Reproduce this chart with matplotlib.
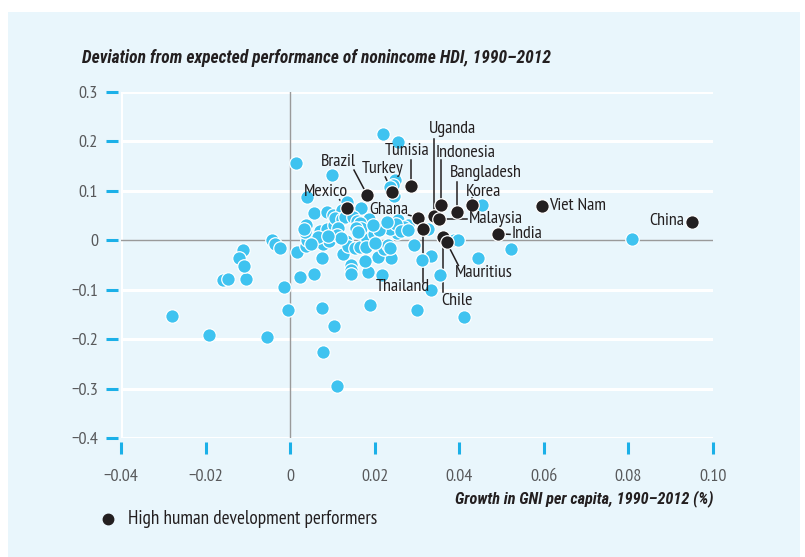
import matplotlib
matplotlib.use("Agg")
import matplotlib.pyplot as plt
from matplotlib.patches import Rectangle

FONT = ["PT Sans Narrow", "DejaVu Sans"]
TITLEFONT = ["Roboto Condensed", "DejaVu Sans"]
plt.rcParams["font.family"] = FONT
plt.rcParams["axes.unicode_minus"] = True

# ---------------- data ----------------
blue_x = [-0.0280, -0.0191, -0.0054, -0.0006, -0.0015, -0.0159, -0.0147, -0.0105,
          -0.0112, -0.0122, -0.0109, -0.0043, -0.0035, -0.0024, 0.0016, 0.0024,
          0.0057, 0.0039, 0.0057, 0.0014, 0.0098, 0.0220, 0.0256, 0.0249,
          0.0243, 0.0235, 0.0246, 0.0453, 0.0088, 0.0102, 0.0134, 0.0122,
          0.0167, 0.0186, 0.0254, 0.0278, 0.0219, 0.0252, 0.0236, 0.0292,
          0.0325, 0.0388, 0.0396, 0.0445, 0.0523, 0.0333, 0.0313, 0.0355,
          0.0333, 0.0299, 0.0188, 0.0217, 0.0184, 0.0239, 0.0207, 0.0223,
          0.0232, 0.0177, 0.0145, 0.0144, 0.0144, 0.0126, 0.0076, 0.0076,
          0.0103, 0.0078, 0.0111, 0.0410, 0.0809, 0.0037, 0.0039, 0.0063,
          0.0077, 0.0093, 0.0132, 0.0137, 0.0154, 0.0165, 0.0182, 0.0199,
          0.0037, 0.0035, 0.0032, 0.0071, 0.0087, 0.0103, 0.0107, 0.0122,
          0.0130, 0.0148, 0.0157, 0.0165, 0.0168, 0.0156, 0.0160, 0.0209,
          0.0269, 0.0250, 0.0235, 0.0114, 0.0110, 0.0120, 0.0066, 0.0090,
          0.0050, 0.0180, 0.0200, 0.0228, 0.0196, 0.0262, 0.0278]
blue_y = [-0.154, -0.192, -0.195, -0.142, -0.094, -0.080, -0.078, -0.079,
          -0.020, -0.036, -0.052, 0.000, -0.008, -0.015, -0.024, -0.075,
          -0.069, 0.087, 0.055, 0.156, 0.133, 0.216, 0.198, 0.121,
          0.112, 0.108, 0.089, 0.072, 0.057, 0.052, 0.078, 0.061,
          0.066, 0.043, 0.042, 0.030, 0.024, 0.015, 0.022, -0.009,
          0.022, 0.000, 0.000, -0.035, -0.017, -0.032, -0.039, -0.070,
          -0.100, -0.141, -0.131, -0.071, -0.065, -0.035, -0.033, -0.018,
          -0.010, -0.041, -0.049, -0.060, -0.069, -0.027, -0.036, -0.137,
          -0.174, -0.227, -0.294, -0.155, 0.003, -0.011, 0.000, -0.003,
          -0.007, -0.002, -0.002, -0.011, -0.015, -0.013, 0.003, 0.012,
          0.030, 0.016, 0.022, 0.019, 0.022, 0.030, 0.045, 0.044,
          0.048, 0.048, 0.040, 0.034, 0.024, 0.024, 0.017, 0.020,
          0.026, 0.032, -0.016, 0.024, 0.010, 0.005, 0.006, 0.008,
          -0.007, -0.013, -0.005, 0.036, 0.030, 0.018, 0.020]

countries = ["Mexico", "Brazil", "Turkey", "Tunisia", "Uganda", "Indonesia",
             "Bangladesh", "Korea", "Malaysia", "Ghana", "Thailand", "India",
             "Chile", "Mauritius", "Viet Nam", "China"]
high_x = [0.0135, 0.0182, 0.0242, 0.0286, 0.0340, 0.0357, 0.0395, 0.0430,
          0.0353, 0.0303, 0.0315, 0.0491, 0.0362, 0.0370, 0.0596, 0.0951]
high_y = [0.065, 0.092, 0.097, 0.109, 0.050, 0.072, 0.058, 0.071,
          0.044, 0.046, 0.022, 0.013, 0.007, -0.004, 0.070, 0.038]

x_ticks = [-0.04, -0.02, 0, 0.02, 0.04, 0.06, 0.08, 0.10]
x_tick_labels = ["\u22120.04", "\u22120.02", "0", "0.02", "0.04", "0.06", "0.08", "0.10"]
y_ticks = [0.3, 0.2, 0.1, 0, -0.1, -0.2, -0.3, -0.4]
y_tick_labels = ["0.3", "0.2", "0.1", "0", "\u22120.1", "\u22120.2", "\u22120.3", "\u22120.4"]

# label placement: (text x, text y, ha, leader path points after the dot)
label_layout = {
    "Mexico":     (0.0084, 0.098, "center", [(0.0117, 0.082)]),
    "Brazil":     (0.0114, 0.158, "center", [(0.0151, 0.142)]),
    "Turkey":     (0.0219, 0.145, "center", [(0.0225, 0.128)]),
    "Tunisia":    (0.0276, 0.181, "center", [(0.0286, 0.163)]),
    "Uganda":     (0.0383, 0.226, "center", [(0.0340, 0.205)]),
    "Indonesia":  (0.0416, 0.177, "center", [(0.0357, 0.163)]),
    "Bangladesh": (0.0463, 0.136, "center", [(0.0395, 0.118)]),
    "Korea":      (0.0457, 0.098, "center", [(0.0430, 0.085)]),
    "Malaysia":   (0.0422, 0.044, "left",   [(0.0418, 0.044)]),
    "Ghana":      (0.0233, 0.061, "center", [(0.0280, 0.051)]),
    "Thailand":   (0.0266, -0.095, "center", [(0.0315, -0.084)]),
    "India":      (0.0523, 0.012, "left",   [(0.0520, 0.012)]),
    "Chile":      (0.0394, -0.123, "center", [(0.0362, -0.105)]),
    "Mauritius":  (0.0459, -0.067, "center", [(0.0398, -0.051)]),
    "Viet Nam":   (0.0612, 0.069, "left",   []),
    "China":      (0.0933, 0.039, "right",  []),
}

BG = "#E9F6FC"
BLUE = "#3FC3F0"
DARK = "#231F20"
TICKBLUE = "#1BB0E8"
GRAYTXT = "#58595B"

fig = plt.figure(figsize=(8.05, 5.57), dpi=100, facecolor="white")
fig.patches.append(Rectangle((8 / 805, 0), (800 - 8) / 805, (557 - 12) / 557,
                             transform=fig.transFigure, facecolor=BG,
                             edgecolor="none", zorder=-10))

ax = fig.add_axes([121 / 805, 1 - 438 / 557, 592 / 805, 346 / 557])
ax.set_facecolor("none")
ax.set_xlim(-0.04, 0.10)
ax.set_ylim(-0.4, 0.3)

for s in ax.spines.values():
    s.set_visible(False)
ax.spines["left"].set_position(("outward", 2))
ax.spines["bottom"].set_position(("outward", 3))

ax.set_xticks(x_ticks)
ax.set_xticklabels(x_tick_labels)
ax.set_yticks(y_ticks)
ax.set_yticklabels(y_tick_labels)
ax.tick_params(axis="both", colors=TICKBLUE, labelcolor=GRAYTXT, labelsize=13,
               width=2.2, length=8.5, direction="out")
ax.tick_params(axis="x", pad=11)
ax.tick_params(axis="y", pad=6)

# white grid lines + white left border
for yv in y_ticks:
    if yv != 0:
        ax.axhline(yv, color="white", lw=2.2, zorder=1)
ax.axvline(-0.04, color="white", lw=2.2, zorder=1)
# zero lines
ax.axhline(0, color="#9A9A9A", lw=1.0, zorder=1.5)
ax.axvline(0, color="#9A9A9A", lw=1.0, zorder=1.5)

# leader lines
for c, hx, hy in zip(countries, high_x, high_y):
    tx, ty, ha, path = label_layout[c]
    if path:
        xs = [hx] + [p[0] for p in path]
        ys = [hy] + [p[1] for p in path]
        ax.plot(xs, ys, color=DARK, lw=1.1, zorder=2)

ax.scatter(blue_x, blue_y, s=95, color=BLUE, edgecolors="white",
           linewidths=0.9, zorder=3)
ax.scatter(high_x, high_y, s=95, color=DARK, edgecolors="white",
           linewidths=0.9, zorder=4)

for c in countries:
    tx, ty, ha, path = label_layout[c]
    ax.text(tx, ty, c, ha=ha, va="center", fontsize=13, color=DARK, zorder=5)

fig.text(82 / 805, 1 - 58 / 557,
         "Deviation from expected performance of nonincome HDI, 1990\u20132012",
         fontsize=12.65, fontweight="bold", fontstyle="italic", color=DARK,
         ha="left", va="center", family=TITLEFONT)
fig.text(713 / 805, 1 - 499 / 557,
         "Growth in GNI per capita, 1990\u20132012 (%)",
         fontsize=11.7, fontweight="bold", fontstyle="italic", color=DARK,
         ha="right", va="center", family=TITLEFONT)

# legend
fig.lines.append(plt.Line2D([108 / 805], [1 - 519 / 557], marker="o",
                            markersize=7.5, color=DARK, linestyle="none",
                            transform=fig.transFigure))
fig.text(128 / 805, 1 - 519 / 557, "High human development performers",
         fontsize=13.9, color=DARK, ha="left", va="center")

fig.savefig("out.png", dpi=100, facecolor="white")
